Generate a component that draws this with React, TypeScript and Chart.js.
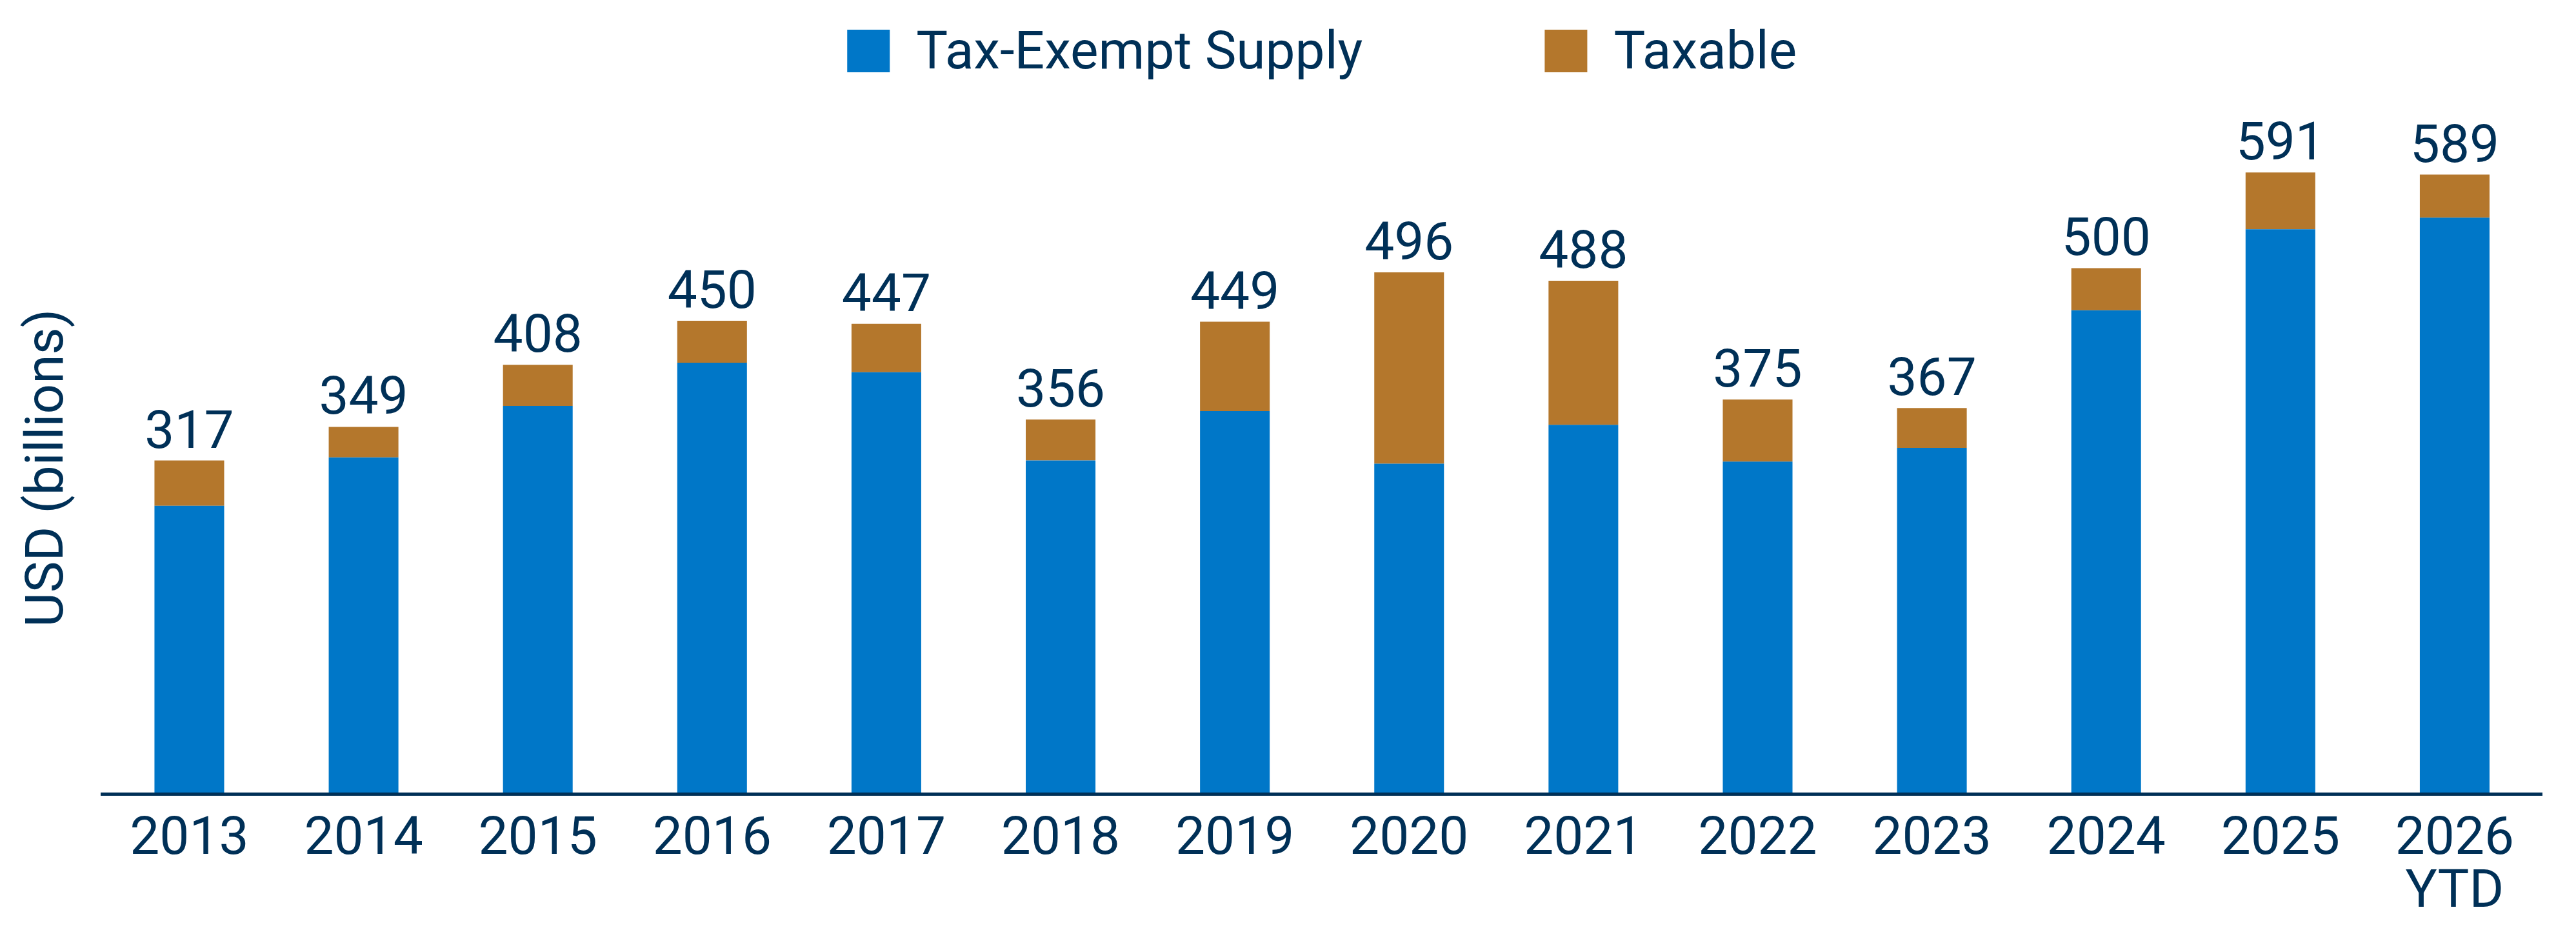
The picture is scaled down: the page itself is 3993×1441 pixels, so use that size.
import React, { useEffect, useRef } from "react";
import { Chart, registerables } from "chart.js";

Chart.register(...registerables);

// Annual municipal issuance, USD billions
const years: (string | string[])[] = [
  "2013", "2014", "2015", "2016", "2017", "2018", "2019",
  "2020", "2021", "2022", "2023", "2024", "2025", ["2026", "YTD"],
];
const taxExemptSupply: number[] = [274, 320, 369, 410, 401, 317, 364, 314, 351, 316, 329, 460, 537, 548];
const taxableSupply: number[] = [43, 29, 39, 40, 46, 39, 85, 182, 137, 59, 38, 40, 54, 41];

const seriesNames = ["Tax-Exempt Supply", "Taxable"];
const yAxisTitle = "USD (billions)";

const WIDTH = 3993;
const HEIGHT = 1441;
const NAVY = "#003057";
const BLUE = "#0077C8";
const BROWN = "#B4772C";
const FONT = "Roboto, 'Noto Sans', sans-serif";
const FONT_SIZE = 82;

// Stacked totals printed above each column
const totalLabels = {
  id: "totalLabels",
  afterDatasetsDraw(chart: Chart) {
    const { ctx } = chart;
    const yScale = chart.scales.y;
    const meta = chart.getDatasetMeta(0);
    ctx.save();
    ctx.fillStyle = NAVY;
    ctx.font = `${FONT_SIZE}px ${FONT}`;
    ctx.textAlign = "center";
    ctx.textBaseline = "alphabetic";
    taxExemptSupply.forEach((v, i) => {
      const total = v + taxableSupply[i];
      const x = (meta.data[i] as any).x;
      const y = yScale.getPixelForValue(total) - 20;
      ctx.fillText(String(total), x, y);
    });
    ctx.restore();
  },
};

// Legend row centred over the plot area
const legendRow = {
  id: "legendRow",
  afterDraw(chart: Chart) {
    const { ctx, chartArea } = chart;
    const box = 66;
    const textGap = FONT_SIZE / 2;
    const itemGap = 282;
    const colors = [BLUE, BROWN];
    ctx.save();
    ctx.font = `${FONT_SIZE}px ${FONT}`;
    const widths = seriesNames.map((n) => ctx.measureText(n).width);
    const total =
      widths.reduce((a, w) => a + box + textGap + w, 0) + itemGap * (seriesNames.length - 1);
    let x = (chartArea.left + chartArea.right) / 2 - total / 2;
    const top = 46;
    seriesNames.forEach((name, i) => {
      ctx.fillStyle = colors[i];
      ctx.fillRect(x, top, box, box);
      x += box + textGap;
      ctx.fillStyle = NAVY;
      ctx.textAlign = "left";
      ctx.textBaseline = "alphabetic";
      ctx.fillText(name, x, 106);
      x += widths[i] + itemGap;
    });
    ctx.restore();
  },
};

export default function App() {
  const canvasRef = useRef<HTMLCanvasElement | null>(null);

  useEffect(() => {
    document.body.style.margin = "0";
    const canvas = canvasRef.current;
    if (!canvas) return;
    const chart = new Chart(canvas, {
      type: "bar",
      data: {
        labels: years,
        datasets: [
          {
            label: seriesNames[0],
            data: taxExemptSupply,
            backgroundColor: BLUE,
            borderWidth: 0,
            barPercentage: 0.8,
            categoryPercentage: 0.5,
          },
          {
            label: seriesNames[1],
            data: taxableSupply,
            backgroundColor: BROWN,
            borderWidth: 0,
            barPercentage: 0.8,
            categoryPercentage: 0.5,
          },
        ],
      },
      options: {
        responsive: false,
        animation: false,
        devicePixelRatio: 1,
        layout: { padding: { top: 220, right: 53, bottom: 0, left: 0 } },
        plugins: {
          legend: { display: false },
          tooltip: { enabled: false },
        },
        scales: {
          x: {
            stacked: true,
            grid: { display: false, drawTicks: false },
            border: { display: true, color: NAVY, width: 5, z: 1 },
            ticks: {
              color: NAVY,
              font: { family: FONT, size: FONT_SIZE, lineHeight: 1 },
              padding: 31,
              maxRotation: 0,
              autoSkip: false,
            },
            afterFit: (scale: any) => {
              scale.height = 211;
            },
          },
          y: {
            stacked: true,
            min: 0,
            max: 620,
            grid: { display: false, drawTicks: false },
            border: { display: false },
            ticks: { display: false },
            title: {
              display: true,
              text: yAxisTitle,
              color: NAVY,
              font: { family: FONT, size: FONT_SIZE, lineHeight: 1.2 },
              padding: { top: 27, bottom: 33 },
            },
          },
        },
      },
      plugins: [totalLabels, legendRow],
    });
    return () => chart.destroy();
  }, []);

  return (
    <div style={{ width: WIDTH, height: HEIGHT, background: "#fff" }}>
      <canvas ref={canvasRef} width={WIDTH} height={HEIGHT} style={{ display: "block" }} />
    </div>
  );
}
